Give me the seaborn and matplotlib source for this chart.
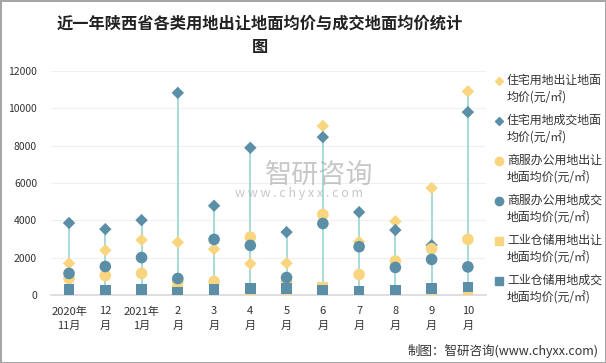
import matplotlib.pyplot as plt
import seaborn as sns
import pandas as pd
from matplotlib.lines import Line2D

months = ['2020年\n11月', '12\n月', '2021年\n1月', '2\n月', '3\n月', '4\n月',
          '5\n月', '6\n月', '7\n月', '8\n月', '9\n月', '10\n月']

# 各类用地均价 (元/㎡)
zz_cr = [1700, 2400, 2950, 2830, 2460, 1680, 1710, 9050, 2850, 3950, 5730, 10900]
zz_cj = [3860, 3530, 4010, 10820, 4780, 7880, 3370, 8450, 4440, 3480, 2670, 9790]
sf_cr = [890, 1050, 1160, 710, 730, 3100, 710, 4310, 1100, 1820, 2480, 2980]
sf_cj = [1160, 1530, 2010, 890, 2980, 2660, 940, 3830, 2590, 1480, 1910, 1510]
gy_cr = [40, 80, 20, 260, 240, 220, 300, 420, 180, 200, 260, 230]
gy_cj = [320, 270, 320, 140, 320, 370, 340, 230, 210, 280, 340, 430]

labels = ['住宅用地出让地面\n均价(元/㎡)', '住宅用地成交地面\n均价(元/㎡)',
          '商服办公用地出让\n地面均价(元/㎡)', '商服办公用地成交\n地面均价(元/㎡)',
          '工业仓储用地出让\n地面均价(元/㎡)', '工业仓储用地成交\n地面均价(元/㎡)']

sns.set_theme(style='white')
plt.rcParams['font.family'] = ['Noto Sans CJK SC', 'DejaVu Sans']

yellow = '#F8D57E'
blue = '#5B8FA8'
teal = '#8ED2CD'

series = [zz_cr, zz_cj, sf_cr, sf_cj, gy_cr, gy_cj]
markers = ['D', 'D', 'o', 'o', 's', 's']
colors = [yellow, blue, yellow, blue, yellow, blue]
sizes = [40, 40, 70, 70, 60, 60]

fig = plt.figure(figsize=(6.06, 3.63), dpi=100, edgecolor='#a6a6a6', linewidth=2)
ax = fig.add_axes([0.084, 0.187, 0.718, 0.618])

x = list(range(len(months)))
df = pd.DataFrame({k: v for k, v in zip(labels, series)})
df['x'] = x

# 高低线
ax.vlines(x, df[labels].min(axis=1), df[labels].max(axis=1), color=teal, lw=1.1, zorder=1)

for lab, mk, c, s in zip(labels, markers, colors, sizes):
    sns.scatterplot(data=df, x='x', y=lab, marker=mk, color=c, s=s,
                    edgecolor='none', ax=ax, zorder=3, legend=False)

ax.set_xlim(-0.5, 11.5)
ax.set_ylim(0, 12000)
ax.set_yticks(range(0, 12001, 2000))
ax.set_xticks(x)
ax.set_xticklabels(months, fontsize=8, color='#333333', linespacing=1.55)
ax.tick_params(axis='y', labelsize=7.5, colors='#333333', length=0, pad=10)
ax.tick_params(axis='x', length=0, pad=8)
ax.set_xlabel('')
ax.set_ylabel('')
ax.yaxis.grid(True, color='#f0f0f0', lw=0.8)
ax.set_axisbelow(True)
for sp in ['top', 'right', 'left']:
    ax.spines[sp].set_visible(False)
ax.spines['bottom'].set_color('#d9d9d9')
ax.spines['bottom'].set_linewidth(1.2)

# 图例 (标记对齐第一行文字)
W, H = 606, 363
for i, (lab, mk, c, ms) in enumerate(zip(labels, markers, colors, [4, 4, 6, 6, 5.5, 5.5])):
    y0 = 81 + i * 40
    fig.add_artist(Line2D([499 / W], [1 - y0 / H], ls='none', marker=mk, color=c,
                          markersize=ms, transform=fig.transFigure))
    fig.text(507 / W, 1 - (y0 - 7) / H, lab, ha='left', va='top', fontsize=8.6,
             color='#333333', linespacing=1.45)

fig.text(0.429, 0.935, '近一年陕西省各类用地出让地面均价与成交地面均价统计', ha='center', va='center',
         fontsize=11.7, fontweight='bold', color='#222222')
fig.text(0.429, 0.87, '图', ha='center', va='center', fontsize=11.7, fontweight='bold', color='#222222')

# 水印
fig.text(265 / W, 1 - 175 / H, '智研咨询', fontsize=19.5, color='#b0b0b0', alpha=0.7, va='center')
fig.text(235 / W, 1 - 194 / H, 'w w w . c h y x x . c o m', fontsize=9, color='#b0b0b0', alpha=0.7, va='center')

fig.text(0.987, 0.015, '制图：智研咨询(www.chyxx.com)', ha='right', va='bottom', fontsize=9, color='#333333')

fig.savefig('out.png', dpi=100)
